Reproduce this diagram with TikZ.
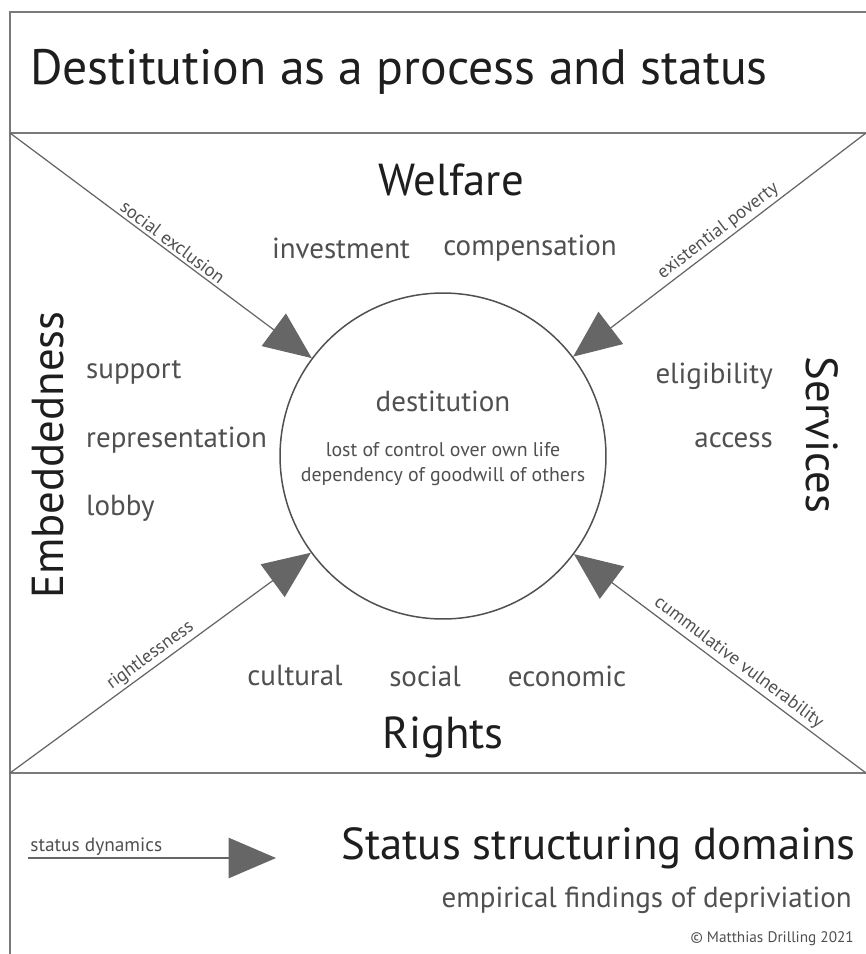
\documentclass[tikz,border=0pt]{standalone}
\usepackage{fontspec}
\setmainfont{PT Sans}
\usetikzlibrary{arrows.meta}

\definecolor{framegray}{HTML}{7A7A7A}
\definecolor{arrowgray}{HTML}{666666}
\definecolor{itemgray}{HTML}{505050}
\definecolor{headblack}{HTML}{1E1E1E}

\tikzset{
  frameline/.style={draw=framegray,line width=1.1pt},
  dyn/.style={draw=arrowgray,line width=0.7pt,
    -{Triangle[length=27pt,width=23pt,fill=arrowgray]}},
  titletext/.style={text=headblack,font=\fontsize{28.3}{32}\selectfont},
  domainhead/.style={text=headblack,font=\fontsize{25.5}{29}\selectfont},
  itemtext/.style={text=itemgray,font=\fontsize{16.5}{19}\selectfont},
  smalltext/.style={text=itemgray,font=\fontsize{11.3}{14}\selectfont},
  dlabel/.style={text=itemgray,font=\fontsize{10.5}{12}\selectfont,sloped,above,inner sep=1.5pt}
}

\begin{document}
\begin{tikzpicture}[x=0.02cm,y=-0.02cm]
 \useasboundingbox (0,0) rectangle (866,954);
 \fill[white] (0,0) rectangle (866,954);

 % frame and rows
 \draw[frameline] (10,12) rectangle (869,962);
 \draw[frameline] (10,133) -- (869,133);
 \draw[frameline] (10,773) -- (869,773);

 \coordinate (tl) at (10,133);
 \coordinate (tr) at (866,133);
 \coordinate (bl) at (10,773);
 \coordinate (br) at (866,773);

 \node[titletext,anchor=west] (head) at (24,72) {Destitution as a process and status};

 % centre
 \node[circle,draw=itemgray,line width=0.85pt,minimum size=6.52cm,inner sep=0pt] (c) at (443,456) {};
 \node[itemtext] (dest) at (443,401) {destitution};
 \node[smalltext,align=center] (loss) at (443,464) {lost of control over own life\\dependency of goodwill of others};

 % status dynamics
 \draw[dyn] (tl) -- node[dlabel,pos=0.52]{social exclusion} (c);
 \draw[dyn] (tr) -- node[dlabel,pos=0.48]{existential poverty} (c);
 \draw[dyn] (bl) -- node[dlabel,pos=0.49]{rightlessness} (c);
 \draw[dyn] (br) -- node[dlabel,pos=0.46]{cummulative vulnerability} (c);

 % domains
 \node[domainhead] (welfare) at (451,180) {Welfare};
 \node[itemtext] (inv) at (341,248) {investment};
 \node[itemtext] (comp) at (530,248) {compensation};

 \node[domainhead] (rights) at (443,737) {Rights};
 \node[itemtext] (cult) at (295,676) {cultural};
 \node[itemtext] (soc) at (425,676) {social};
 \node[itemtext] (eco) at (567,676) {economic};

 \node[domainhead,rotate=90] (embed) at (48,455) {Embeddedness};
 \node[itemtext,anchor=west] (supp) at (80,372) {support};
 \node[itemtext,anchor=west] (repr) at (80,440) {representation};
 \node[itemtext,anchor=west] (lobby) at (80,508) {lobby};

 \node[domainhead,rotate=-90] (serv) at (822,435) {Services};
 \node[itemtext,anchor=east] (elig) at (779,376) {eligibility};
 \node[itemtext,anchor=east] (acc) at (779,440) {access};

 % legend
 \coordinate (ls) at (28,858);
 \coordinate (le) at (276,858);
 \draw[dyn] (ls) -- node[pos=0,anchor=south west,smalltext,inner sep=1pt,font=\fontsize{11}{13}\selectfont]{status dynamics} (le);
 \node[domainhead,anchor=east] (ssd) at (862,848) {Status structuring domains};
 \node[itemtext,anchor=east] (emp) at (858,900) {empirical findings of depriviation};
 \node[smalltext,anchor=east,font=\fontsize{8.7}{10}\selectfont] (copy) at (860,939) {© Matthias Drilling 2021};
\end{tikzpicture}
\end{document}
